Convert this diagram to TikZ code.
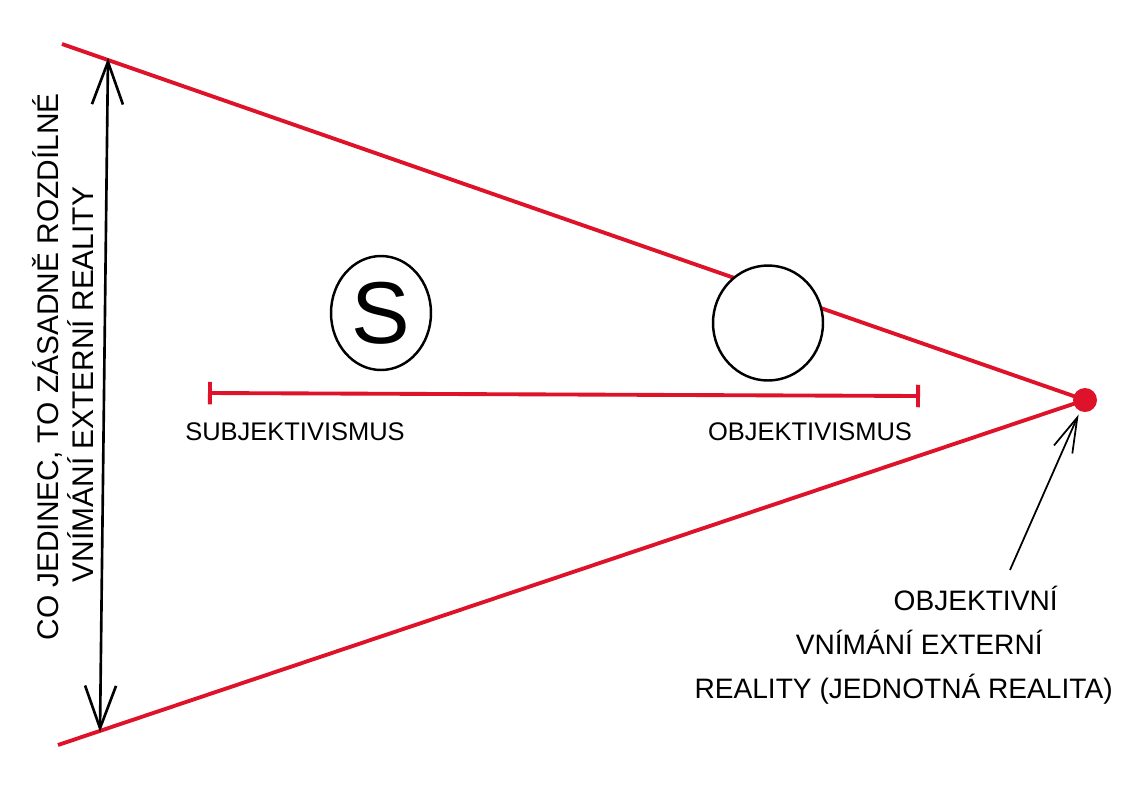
\documentclass[tikz,border=0pt]{standalone}
\usepackage{fontspec}
\setmainfont{Liberation Sans}
\usepackage{xcolor}
\usetikzlibrary{arrows.meta,shapes.geometric}
\definecolor{pen}{RGB}{222,18,40}

\begin{document}
\begin{tikzpicture}[x=0.02cm,y=-0.02cm,
    redline/.style={pen,line width=2.2pt},
    blob/.style={ellipse,draw,line width=1.4pt,fill=white,inner sep=0pt},
    hand/.style={inner sep=0pt,font=\fontsize{14.5}{17}\selectfont}]
    \useasboundingbox (0,0) rectangle (1134,789);
    \coordinate (topL) at (62,44);
    \coordinate (botL) at (58,745);
    \coordinate (arrtop) at (108,58);
    \coordinate (arrbot) at (100,732);
    \coordinate (subjend) at (208,393);
    \coordinate (objend) at (920,396);
    \coordinate (tail) at (1010,570);
    \node[circle,fill=pen,inner sep=0pt,minimum size=0.48cm] (apex) at (1085,400) {};
    \draw[redline] (topL) -- (apex.center);
    \draw[redline] (botL) -- (apex.center);
    \draw[line width=1.5pt,{Straight Barb[length=0.85cm,width=0.62cm]}-{Straight Barb[length=0.85cm,width=0.62cm]}] (arrtop) -- (arrbot);
    \draw[redline,{Bar[width=0.45cm]}-{Bar[width=0.45cm]}] (subjend) -- (objend);
    \node[blob,minimum width=2cm,minimum height=2.28cm,font=\fontsize{50}{50}\selectfont] (subj) at (381,313) {S};
    \node[blob,minimum width=2.2cm,minimum height=2.3cm] (obj) at (768,323) {};
    \node[hand] (subjlab) at (295,432) {SUBJEKTIVISMUS};
    \node[hand] (objlab) at (810,432) {OBJEKTIVISMUS};
    \node[hand,rotate=90,align=center,font=\fontsize{17}{19.5}\selectfont] (leftlab) at (63,367) {CO JEDINEC, TO ZÁSADNĚ ROZDÍLNÉ\\VNÍMÁNÍ EXTERNÍ REALITY\hspace*{0.7cm}\mbox{}};
    \node[hand,anchor=east,align=right,font=\fontsize{16}{25}\selectfont] (reallab) at (1113,645) {OBJEKTIVNÍ\hspace*{1.1cm}\mbox{}\\VNÍMÁNÍ EXTERNÍ\hspace*{1.4cm}\mbox{}\\REALITY (JEDNOTNÁ REALITA)};
    \draw[line width=1pt,-{Straight Barb[length=0.7cm,width=0.4cm]},shorten >=2pt] (tail) -- (apex);
\end{tikzpicture}
\end{document}
